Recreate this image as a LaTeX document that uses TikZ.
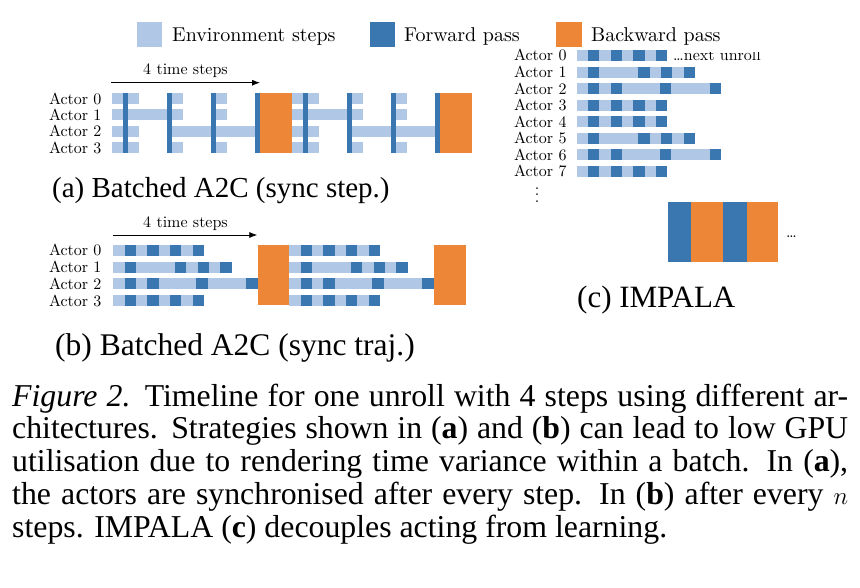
\documentclass[tikz,border=0pt]{standalone}
\usepackage{graphicx}
\usepackage{fontspec}
\newfontfamily\capfont{Liberation Serif}
\usetikzlibrary{arrows.meta}
\definecolor{envc}{HTML}{B0C7E6}
\definecolor{fwdc}{HTML}{3A77B0}
\definecolor{bwdc}{HTML}{EE8637}
\newcommand\seqrow[3]{%
  \xdef\curx{#1}%
  \foreach \kind/\len in #3{%
    \pgfmathsetmacro\mynx{\curx+\len}%
    \fill[fill=\kind] (\curx,#2-5.5) rectangle (\mynx,#2+5.5);%
    \xdef\curx{\mynx}%
  }%
}
\newcommand\envseg[3]{\fill[envc] (#1,#3-5.5) rectangle (#2,#3+5.5);}
\newcommand\smtext[1]{\scalebox{1.6}{#1}}
\newcommand\lgtext[1]{\scalebox{2}{#1}}
\def\RZ{envc/11.33,fwdc/11.33,envc/11.33,fwdc/11.33,envc/11.33,fwdc/11.33,envc/11.33,fwdc/11.33}
\def\RO{envc/11.33,fwdc/11.33,envc/39,fwdc/11.33,envc/11.33,fwdc/11.33,envc/11.33,fwdc/11.33}
\def\RT{envc/11.33,fwdc/11.33,envc/11.33,fwdc/11.33,envc/37.7,fwdc/11.33,envc/38.8,fwdc/11.33}
\begin{document}
\begin{tikzpicture}[x=1pt,y=-1pt,
  lbl/.style={font=\fontsize{10}{12}\selectfont, anchor=base east, inner sep=0pt},
  tlbl/.style={font=\fontsize{10}{12}\selectfont, anchor=base, inner sep=0pt},
  leg/.style={font=\fontsize{10}{12}\selectfont, anchor=base west, inner sep=0pt},
  sublbl/.style={font=\capfont\fontsize{31}{34}\selectfont, anchor=base west, inner sep=0pt},
  capline/.style={font=\capfont\fontsize{31.8}{32}\selectfont, anchor=base west, inner sep=0pt},
  tarrow/.style={-{Latex[length=8pt,width=6pt]}, line width=0.8pt},
  fstrip/.style={fill=fwdc},
  bblock/.style={fill=bwdc}]
\useasboundingbox (0,0) rectangle (860,588);
\fill[white] (0,0) rectangle (860,588);

% legend
\fill[envc] (137,22) rectangle (162,47);
\node[leg] (legE) at (172,42) {\lgtext{Environment steps}};
\fill[fwdc] (370,22) rectangle (395,47);
\node[leg] (legF) at (404,42) {\lgtext{Forward pass}};
\fill[bwdc] (556,22) rectangle (582,47);
\node[leg] (legB) at (591,42) {\lgtext{Backward pass}};

% ---------------- panel (a)
\coordinate (ta1) at (111,82.7);
\coordinate (ta2) at (260,82.7);
\draw[tarrow] (ta1) -- (ta2);
\node[tlbl] (ta) at (185.5,75) {\smtext{4 time steps}};
\foreach \i/\y in {0/98.7,1/115,2/131.3,3/147.7}{
  \node[lbl] (aA\i) at (101.7,\y+5.5) {\smtext{Actor \i}};
}
\foreach \o in {0,180}{
  \foreach \y in {98.7,115,131.3,147.7}{\envseg{111.7+\o}{122.7+\o}{\y}}
  \envseg{128+\o}{166.7+\o}{115}
  \foreach \y in {98.7,131.3,147.7}{\envseg{128+\o}{139.3+\o}{\y}}
  \envseg{172+\o}{210.7+\o}{131.3}
  \foreach \y in {98.7,115,147.7}{\envseg{172+\o}{183.3+\o}{\y}}
  \envseg{216+\o}{254.7+\o}{131.3}
  \foreach \y in {98.7,115,147.7}{\envseg{216+\o}{227.3+\o}{\y}}
  \foreach \s in {122.7,166.7,210.7,254.7}{
    \fill[fstrip] (\s+\o,92.7) rectangle (\s+5.3+\o,153.5);
  }
  \fill[bblock] (260+\o,92.7) rectangle (291.7+\o,153.5);
}
\node[sublbl, font=\capfont\fontsize{29}{32}\selectfont] (capa) at (52,198) {(a) Batched A2C (sync step.)};

% ---------------- panel (b)
\coordinate (tb1) at (112.7,235);
\coordinate (tb2) at (257.3,235);
\draw[tarrow] (tb1) -- (tb2);
\node[tlbl] (tb) at (185.5,227.3) {\smtext{4 time steps}};
\foreach \i/\y in {0/250.5,1/267.2,2/283.8,3/300.5}{
  \node[lbl] (bA\i) at (101.7,\y+5.5) {\smtext{Actor \i}};
}
\foreach \x in {113.3,289.3}{
  \seqrow{\x}{250.5}{\RZ}
  \seqrow{\x}{267.2}{\RO}
  \seqrow{\x}{283.8}{\RT}
  \seqrow{\x}{300.5}{\RZ}
}
\fill[bblock] (257.8,245) rectangle (289.3,305.5);
\fill[bblock] (433.8,245) rectangle (465.5,305.5);
\node[sublbl, font=\capfont\fontsize{31.5}{34}\selectfont] (capb) at (55,355) {(b) Batched A2C (sync traj.)};

% ---------------- panel (c)
\foreach \i/\r in {0/RZ,1/RO,2/RT,3/RZ,4/RZ,5/RO,6/RT,7/RZ}{
  \pgfmathsetmacro\yy{55.5+16.55*\i}
  \node[lbl] (cA\i) at (566.7,\yy+5.5) {\smtext{Actor \i}};
  \expandafter\let\expandafter\currow\csname\r\endcsname
  \seqrow{576.7}{\yy}{\currow}
}
\begin{scope}
  \clip (665,52.5) rectangle (800,70);
  \node[lbl, anchor=base west] (nextu) at (673,61) {\smtext{\ldots next unroll}};
\end{scope}
\node[font=\fontsize{10}{12}\selectfont, inner sep=0pt] (vd) at (537,190) {\smtext{$\vdots$}};
\fill[fwdc] (668.3,201.7) rectangle (691,261.7);
\fill[bwdc] (691,201.7) rectangle (723.3,261.7);
\fill[fwdc] (723.3,201.7) rectangle (746.7,261.7);
\fill[bwdc] (746.7,201.7) rectangle (778.3,261.7);
\node[lbl, anchor=base west] (cdots) at (786,237.5) {\smtext{\ldots}};
\node[sublbl] (capc) at (577,308) {(c) IMPALA};

% ---------------- caption
\node[capline] (l1) at (12,406) {\makebox[836pt][s]{\textit{Figure 2.} Timeline for one unroll with 4 steps using different ar-}};
\node[capline] (l2) at (12,438.8) {\makebox[836pt][s]{chitectures. Strategies shown in (\textbf{a}) and (\textbf{b}) can lead to low GPU}};
\node[capline] (l3) at (12,471.6) {\makebox[836pt][s]{utilisation due to rendering time variance within a batch. In (\textbf{a}),}};
\node[capline] (l4) at (12,504.4) {\makebox[836pt][s]{the actors are synchronised after every step. In (\textbf{b}) after every $n$}};
\node[capline] (l5) at (12,537.2) {steps. IMPALA (\textbf{c}) decouples acting from learning.};
\end{tikzpicture}
\end{document}
